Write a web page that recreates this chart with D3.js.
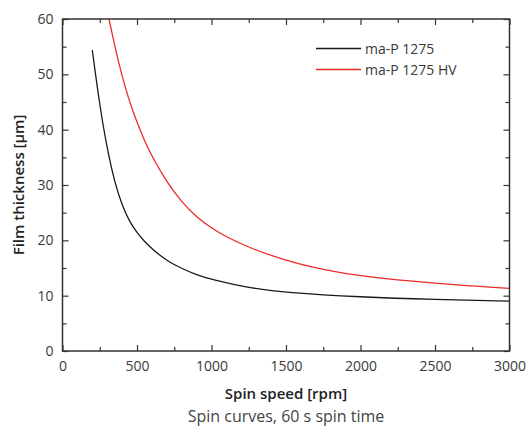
<!DOCTYPE html>
<html><head><meta charset="utf-8">
<script src="https://cdn.jsdelivr.net/npm/d3@7"></script>
<style>
body{margin:0;background:#fff;}
text{font-family:"Open Sans","Noto Sans",sans-serif;}
</style></head>
<body><svg id="c" width="528" height="429"></svg>
<script>
const seriesNames = ["ma-P 1275", "ma-P 1275 HV"];
const seriesColors = ["#1a1a1a", "#ee2a24"];
const speedBlack = [200,250,300,350,400,450,500,550,600,650,700,800,900,1000,1250,1500,2000,2500,3000];
const thickBlack = [54.4,44.3,36.5,30.5,26.3,23.35,21.35,19.8,18.5,17.35,16.35,14.9,13.75,12.95,11.4,10.55,9.75,9.3,9.0];
const speedRed = [312,350,400,450,500,550,600,700,800,900,1000,1100,1250,1500,1750,2000,2500,3000];
const thickRed = [60,55.2,49.6,45.0,41.3,38.0,35.2,30.5,26.9,24.2,22.2,20.6,18.7,16.3,14.7,13.5,12.2,11.3];
const xTicks = [0,500,1000,1500,2000,2500,3000];
const yTicks = [0,10,20,30,40,50,60];
const xTitle = "Spin speed [rpm]";
const yTitle = "Film thickness [µm]";
const caption = "Spin curves, 60 s spin time";

const svg = d3.select("#c");
const L=62.5, R=509.5, T=19, B=351;
const x = d3.scaleLinear().domain([0,3000]).range([L,R]);
const y = d3.scaleLinear().domain([0,60]).range([B,T]);
const axisCol = "#333";
const txtCol = "#3a3a3a";

svg.append("defs").append("clipPath").attr("id","clip")
  .append("rect").attr("x",L).attr("y",T).attr("width",R-L).attr("height",B-T);

const series = [
  {name:seriesNames[0], color:seriesColors[0], data:speedBlack.map((s,i)=>[s,thickBlack[i]])},
  {name:seriesNames[1], color:seriesColors[1], data:speedRed.map((s,i)=>[s,thickRed[i]])}
];
const line = d3.line().x(d=>x(d[0])).y(d=>y(d[1])).curve(d3.curveBasis);
series.forEach(s=>{
  svg.append("path").attr("d",line(s.data)).attr("fill","none")
    .attr("stroke",s.color).attr("stroke-width",1.3).attr("clip-path","url(#clip)");
});

const minorX = d3.range(250,3000,500);
const minorY = d3.range(5,60,10);
function styleAxis(g){
  g.select(".domain").remove();
  g.selectAll(".tick line").attr("stroke",axisCol).attr("stroke-width",1.2);
  g.selectAll(".tick text").attr("fill",txtCol).style("font-size","14px");
}
// bottom
const gb = svg.append("g").attr("transform",`translate(0,${B})`)
  .call(d3.axisBottom(x).tickValues(xTicks).tickFormat(d3.format("d")).tickSizeInner(-6).tickSizeOuter(0).tickPadding(10));
styleAxis(gb);
gb.selectAll(".tick text").attr("dy","0.71em");
svg.append("g").attr("transform",`translate(0,${B})`)
  .call(d3.axisBottom(x).tickValues(minorX).tickFormat("").tickSizeInner(-4).tickSizeOuter(0)).call(styleAxis);
// top
svg.append("g").attr("transform",`translate(0,${T})`)
  .call(d3.axisTop(x).tickValues(xTicks).tickFormat("").tickSizeInner(-6).tickSizeOuter(0)).call(styleAxis);
svg.append("g").attr("transform",`translate(0,${T})`)
  .call(d3.axisTop(x).tickValues(minorX).tickFormat("").tickSizeInner(-4).tickSizeOuter(0)).call(styleAxis);
// left
const gl = svg.append("g").attr("transform",`translate(${L},0)`)
  .call(d3.axisLeft(y).tickValues(yTicks).tickSizeInner(-6).tickSizeOuter(0).tickPadding(9));
styleAxis(gl);
svg.append("g").attr("transform",`translate(${L},0)`)
  .call(d3.axisLeft(y).tickValues(minorY).tickFormat("").tickSizeInner(-4).tickSizeOuter(0)).call(styleAxis);
// right
svg.append("g").attr("transform",`translate(${R},0)`)
  .call(d3.axisRight(y).tickValues(yTicks).tickFormat("").tickSizeInner(-6).tickSizeOuter(0)).call(styleAxis);
svg.append("g").attr("transform",`translate(${R},0)`)
  .call(d3.axisRight(y).tickValues(minorY).tickFormat("").tickSizeInner(-4).tickSizeOuter(0)).call(styleAxis);

// frame
svg.append("rect").attr("x",L).attr("y",T).attr("width",R-L).attr("height",B-T)
  .attr("fill","none").attr("stroke",axisCol).attr("stroke-width",1.5);

// legend
series.forEach((s,i)=>{
  const ly = 48.5 + i*21;
  svg.append("line").attr("x1",316).attr("x2",361).attr("y1",ly).attr("y2",ly)
    .attr("stroke",s.color).attr("stroke-width",1.3);
  svg.append("text").attr("x",365).attr("y",ly+5).attr("fill",txtCol)
    .style("font-size","14px").text(s.name);
});

// titles
svg.append("text").attr("x",(L+R)/2).attr("y",399).attr("text-anchor","middle")
  .attr("fill","#222").style("font-size","15px").style("font-weight","600").text(xTitle);
svg.append("text").attr("transform",`translate(24,${(T+B)/2}) rotate(-90)`).attr("text-anchor","middle")
  .attr("fill","#222").style("font-size","15px").style("font-weight","600").text(yTitle);
svg.append("text").attr("x",(L+R)/2).attr("y",422).attr("text-anchor","middle")
  .attr("fill","#444").style("font-size","16px").text(caption);
</script></body></html>
